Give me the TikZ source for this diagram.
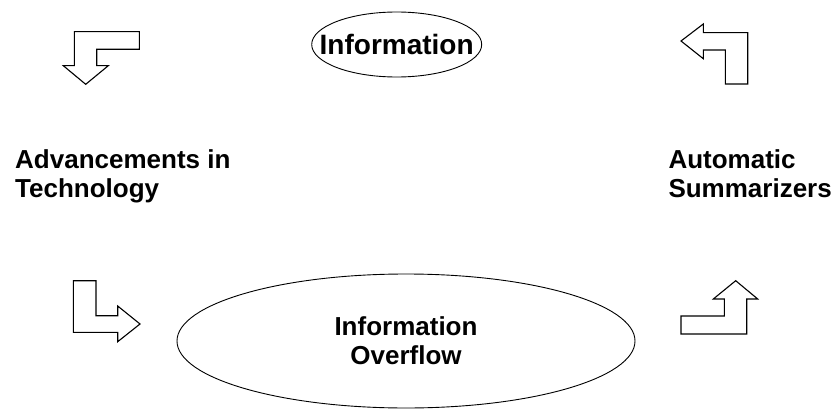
\documentclass[tikz,border=0pt]{standalone}
\usepackage{fontspec}
\setmainfont{Liberation Sans}
\usetikzlibrary{shapes.geometric}
\begin{document}
\begin{tikzpicture}[x=1pt,y=-1pt,
  lbl/.style={font=\bfseries\fontsize{26}{29}\selectfont, inner sep=0pt},
  oval/.style={draw, ellipse, line width=0.9pt, inner sep=0pt},
  bentarrow/.style={draw, line width=1.1pt, line join=miter}]
\useasboundingbox (0,0) rectangle (837,409);
% top ellipse
\node[oval, minimum width=170pt, minimum height=65pt, font=\bfseries\fontsize{28}{30}\selectfont] (info) at (396.7,44.5) {\makebox[0pt]{Information}};
% big ellipse
\node[oval, minimum width=458pt, minimum height=134pt, align=center, lbl] (overflow) at (406,341) {Information\\Overflow};
% labels
\node[lbl, align=left, anchor=north west] (adv) at (15,149) {Advancements in\\Technology};
\node[lbl, align=left, anchor=north west] (auto) at (668.3,149) {Automatic\\Summarizers};
% top-left arrow (down)
\draw[bentarrow] (74.3,31.7) -- (139.3,31.7) -- (139.3,49.3) -- (96.7,49.3) -- (96.7,65.7)
  -- (108.3,65.7) -- (85.7,84.3) -- (63.3,65.7) -- (74.3,65.7) -- cycle;
% top-right arrow (left)
\draw[bentarrow] (681,41) -- (703.3,24) -- (703.3,32.7) -- (747.7,32.7) -- (747.7,84)
  -- (725.3,84) -- (725.3,50) -- (703.3,50) -- (703.3,58.7) -- cycle;
% bottom-left arrow (right)
\draw[bentarrow] (73.3,280.7) -- (96,280.7) -- (96,315.7) -- (117.7,315.7) -- (117.7,306)
  -- (140,324) -- (117.7,341.7) -- (117.7,332.3) -- (73.3,332.3) -- cycle;
% bottom-right arrow (up)
\draw[bentarrow] (735.7,280.7) -- (757.7,299) -- (746.7,299) -- (746.7,334) -- (681,334)
  -- (681,316) -- (724.3,316) -- (724.3,299) -- (713.3,299) -- cycle;
\end{tikzpicture}
\end{document}
